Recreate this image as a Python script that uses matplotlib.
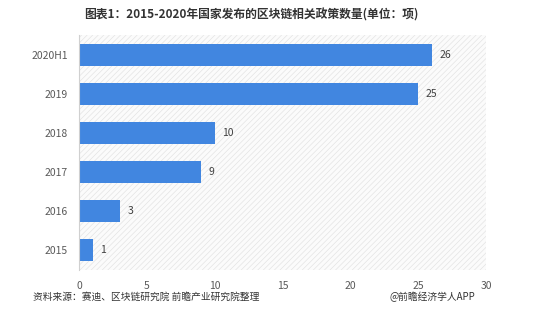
import matplotlib
matplotlib.use("Agg")
import matplotlib.pyplot as plt
from matplotlib.patches import Rectangle

plt.rcParams['font.family'] = ['Noto Sans CJK SC', 'DejaVu Sans']
plt.rcParams['hatch.linewidth'] = 0.5

categories = ["2015", "2016", "2017", "2018", "2019", "2020H1"]
values = [1, 3, 9, 10, 25, 26]
xticks = [0, 5, 10, 15, 20, 25, 30]

title = "图表1：2015-2020年国家发布的区块链相关政策数量(单位：项)"
source = "资料来源：赛迪、区块链研究院 前瞻产业研究院整理"
brand = "@前瞻经济学人APP"

fig = plt.figure(figsize=(5.54, 3.30), dpi=100)
ax = fig.add_axes([0.1426, 0.182, 0.735, 0.712])

bg = Rectangle((0, 0), 1, 1, transform=ax.transAxes, facecolor='#fbfbfb',
               edgecolor='#e4e4e4', hatch='//////', lw=0, zorder=0)
ax.add_patch(bg)

bars = ax.barh(categories, values, height=0.56, color='#4186e0', zorder=2)
for b, v in zip(bars, values):
    ax.text(b.get_width() + 0.55, b.get_y() + b.get_height() / 2, str(v),
            va='center', ha='left', fontsize=7.5, color='#404040')

ax.set_xlim(0, 30)
ax.set_ylim(-0.5, len(categories) - 0.5)
ax.set_xticks(xticks)
ax.tick_params(axis='both', length=0, labelsize=7.5, colors='#595959')
ax.tick_params(axis='y', pad=8)
ax.tick_params(axis='x', pad=8)
for s in ['top', 'right', 'bottom']:
    ax.spines[s].set_visible(False)
ax.spines['left'].set_color('#d0d0d0')
ax.spines['left'].set_linewidth(0.8)
ax.patch.set_visible(False)

fig.text(0.453, 0.955, title, ha='center', va='center', fontsize=8.5,
         fontweight='bold', color='#333333')
fig.text(0.06, 0.10, source, ha='left', va='center', fontsize=7, color='#333333')
fig.text(0.858, 0.10, brand, ha='right', va='center', fontsize=7, color='#333333')

fig.savefig("out.png", dpi=100)
